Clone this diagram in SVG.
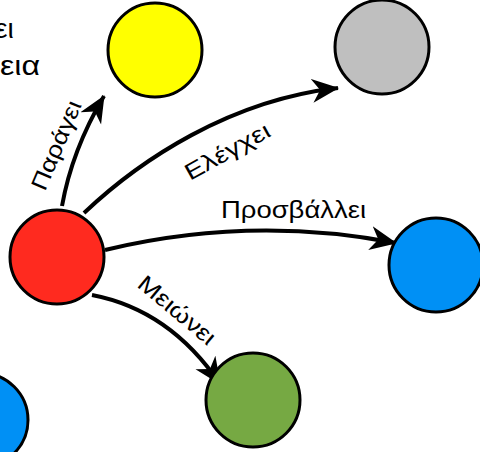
<svg xmlns="http://www.w3.org/2000/svg" width="480" height="452" viewBox="0 0 480 452">
<defs>
<style>
.n{stroke:#000;stroke-width:3}
.e{fill:none;stroke:#000;stroke-width:4;marker-end:url(#ah)}
.t{font-family:"Liberation Sans","DejaVu Sans",sans-serif;font-size:23px;fill:#000}
.big{font-size:28px}
</style>
<marker id="ah" markerUnits="userSpaceOnUse" markerWidth="28" markerHeight="26" viewBox="0 0 28 26" refX="26" refY="13" orient="auto">
<path d="M0,1 L27,13 L0,25 L8,13 z" fill="#000"/>
</marker>
</defs>
<rect width="480" height="452" fill="#fff"/>
<g id="partial-text">
<text class="t big" x="-5" y="38">ει</text>
<text class="t big" x="0" y="75" textLength="40" lengthAdjust="spacingAndGlyphs">εια</text>
</g>
<g id="connectors">
<path class="e" d="M62,206 Q72,150 104,96"/>
<path class="e" d="M84,213 C140,160 230,100 338,88"/>
<path class="e" d="M105,250 Q250,215 396,243"/>
<path class="e" d="M92,295 Q170,310 220,384"/>
<text class="t" transform="translate(45,192) rotate(-67)" textLength="95" lengthAdjust="spacingAndGlyphs">Παράγει</text>
<text class="t" transform="translate(190,181) rotate(-29)" textLength="94" lengthAdjust="spacingAndGlyphs">Ελέγχει</text>
<text class="t" x="221" y="218" textLength="145" lengthAdjust="spacingAndGlyphs">Προσβάλλει</text>
<text class="t" transform="translate(136,286) rotate(40)" textLength="94" lengthAdjust="spacingAndGlyphs">Μειώνει</text>
</g>
<g id="red"><circle class="n" cx="57" cy="257" r="47" fill="#FF2A1F"/></g>
<g id="yellow"><circle class="n" cx="155" cy="50" r="47" fill="#FFFF00"/></g>
<g id="gray"><circle class="n" cx="382" cy="47" r="47" fill="#BFBFBF"/></g>
<g id="blue-right"><circle class="n" cx="436" cy="265" r="47" fill="#0090F5"/></g>
<g id="green"><circle class="n" cx="253" cy="400" r="47" fill="#76A943"/></g>
<g id="blue-left"><circle class="n" cx="-19" cy="420" r="47" fill="#0090F5"/></g>
</svg>
